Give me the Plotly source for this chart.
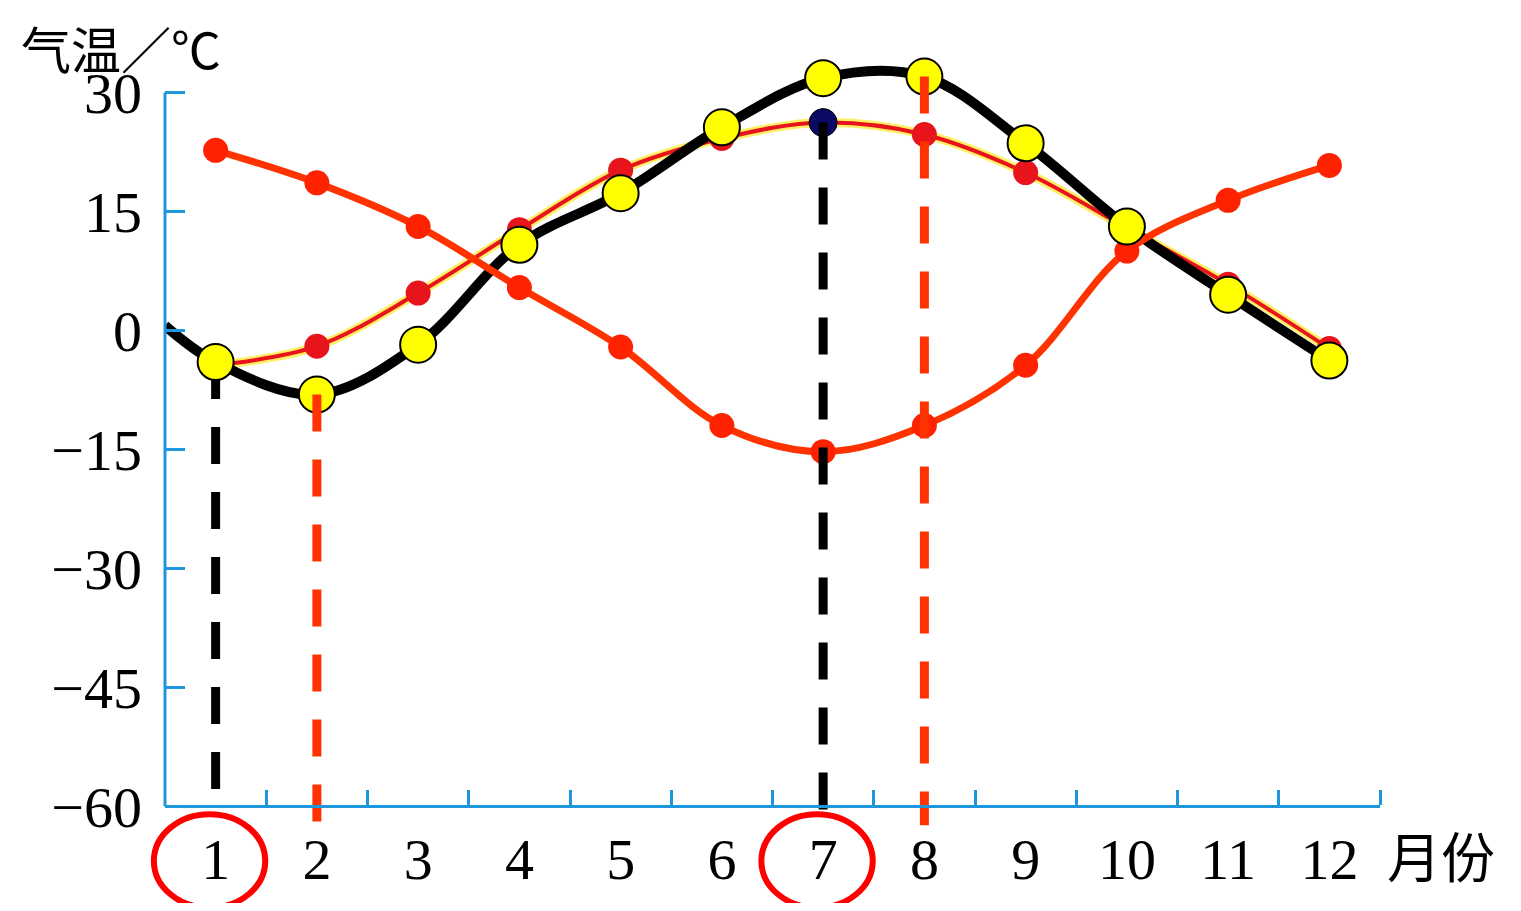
import plotly.graph_objects as go

# Months on the x axis
months = list(range(1, 13))
month_labels = [str(m) for m in months]

# Black curve (x starts at the y axis, 0.5)
black_x = [0.5] + months
black_y = [0.6, -4.0, -8.1, -1.8, 10.8, 17.3, 25.6, 31.8, 32.0, 23.6, 13.1, 4.5, -3.8]

# Red curve, northern shape (drawn under the black one)
red_north = [-4.4, -2.0, 4.7, 12.7, 20.2, 24.2, 26.2, 24.7, 19.9, 12.9, 5.8, -2.3]

# Red curve, southern shape
red_south = [22.7, 18.6, 13.1, 5.4, -2.1, -12.0, -15.3, -12.0, -4.4, 10.0, 16.4, 20.8]

# Vertical dashed guide lines: month, top, bottom
guide_month = [1, 2, 7, 8]
guide_top = [-4.0, -8.1, 26.2, 32.0]
guide_bottom = [-58.4, -62.4, -61.7, -62.4]
guide_color = ["black", "#FF3300", "black", "#FF3300"]

# Y axis ticks
y_ticks = [30, 15, 0, -15, -30, -45, -60]
y_labels = ["30", "15", "0", "\u221215", "\u221230", "\u221245", "\u221260"]

# Circled months
circled = [1, 7]

AXIS = "#1E96DC"
X_RANGE = [0.5, 12.5]
Y_RANGE = [-63, 38]
Y_AXIS_MIN, Y_AXIS_MAX = -60, 30


def px(m):
    return (m - X_RANGE[0]) / (X_RANGE[1] - X_RANGE[0])


def py(v):
    return (v - Y_RANGE[0]) / (Y_RANGE[1] - Y_RANGE[0])


fig = go.Figure()

# northern red curve with a yellow fringe
fig.add_trace(go.Scatter(x=months, y=red_north, mode="lines",
                         line=dict(color="#FFE600", width=9, shape="spline"),
                         opacity=0.6, hoverinfo="skip"))
fig.add_trace(go.Scatter(x=months, y=red_north, mode="lines+markers",
                         line=dict(color="#E8141C", width=4, shape="spline"),
                         marker=dict(color="#E8141C", size=25)))

# black curve
fig.add_trace(go.Scatter(x=black_x, y=black_y, mode="lines",
                         line=dict(color="black", width=10, shape="spline")))

# southern red curve
fig.add_trace(go.Scatter(x=months, y=red_south, mode="lines+markers",
                         line=dict(color="#FF3300", width=7, shape="spline"),
                         marker=dict(color="#FF2200", size=25)))

# first black guide sits under the yellow dot
fig.add_trace(go.Scatter(x=[guide_month[0]] * 2, y=[guide_top[0], guide_bottom[0]],
                         mode="lines",
                         line=dict(color=guide_color[0], width=9, dash="37px,28px")))

# yellow dots on the black curve
fig.add_trace(go.Scatter(x=months, y=black_y[1:], mode="markers",
                         marker=dict(color="#FFFF00", size=36,
                                     line=dict(color="black", width=2))))

# navy dot at the July maximum of the red curve
fig.add_trace(go.Scatter(x=[7], y=[red_north[6]], mode="markers",
                         marker=dict(color="#0A0A64", size=28,
                                     line=dict(color="black", width=1))))

for m, top, bot, c in zip(guide_month[1:], guide_top[1:], guide_bottom[1:], guide_color[1:]):
    fig.add_trace(go.Scatter(x=[m, m], y=[top, bot], mode="lines",
                             line=dict(color=c, width=9, dash="37px,28px")))

shapes = [dict(type="line", xref="paper", yref="y", x0=0, x1=0,
               y0=Y_AXIS_MIN, y1=Y_AXIS_MAX, line=dict(color=AXIS, width=3))]
for m in circled:
    shapes.append(dict(type="circle", xref="paper", yref="paper",
                       x0=px(m - 0.61), x1=px(m + 0.49),
                       y0=py(-72.8), y1=py(-61.0),
                       line=dict(color="#FF0000", width=6)))

# the page body has an 8px margin, so the figure is a bit smaller than the window
fig.update_layout(
    width=1505, height=895,
    margin=dict(l=157, r=133, t=21, b=73),
    paper_bgcolor="white", plot_bgcolor="white",
    showlegend=False,
    font=dict(family="Liberation Serif, Noto Sans CJK SC", color="black", size=58),
    xaxis=dict(range=X_RANGE, tickvals=months, ticktext=month_labels,
               ticks="", showgrid=False, zeroline=False, automargin=False,
               showline=True, linecolor=AXIS, linewidth=3,
               anchor="free", position=py(Y_AXIS_MIN),
               ticklabelstandoff=1,
               tickfont=dict(family="Liberation Serif", size=58),
               minor=dict(tickvals=[m + 0.5 for m in months], ticks="inside",
                          ticklen=15, tickwidth=3, tickcolor=AXIS)),
    yaxis=dict(range=Y_RANGE, tickvals=y_ticks, ticktext=y_labels,
               ticks="inside", ticklen=20, tickwidth=3, tickcolor=AXIS,
               showgrid=False, zeroline=False, showline=False, automargin=False,
               ticklabelstandoff=22,
               tickfont=dict(family="Liberation Serif", size=58)),
    shapes=shapes,
    annotations=[
        dict(text="气温／℃", xref="paper", yref="paper", x=-0.036, y=0.9775,
             xanchor="center", yanchor="middle",
             showarrow=False, font=dict(family="Noto Sans CJK SC", size=50)),
        dict(text="月份", xref="paper", yref="paper", x=px(13.1), y=py(-66.1),
             xanchor="center", yanchor="middle",
             showarrow=False, font=dict(family="Noto Sans CJK SC", size=54)),
    ],
)

fig.write_html("out.html")
